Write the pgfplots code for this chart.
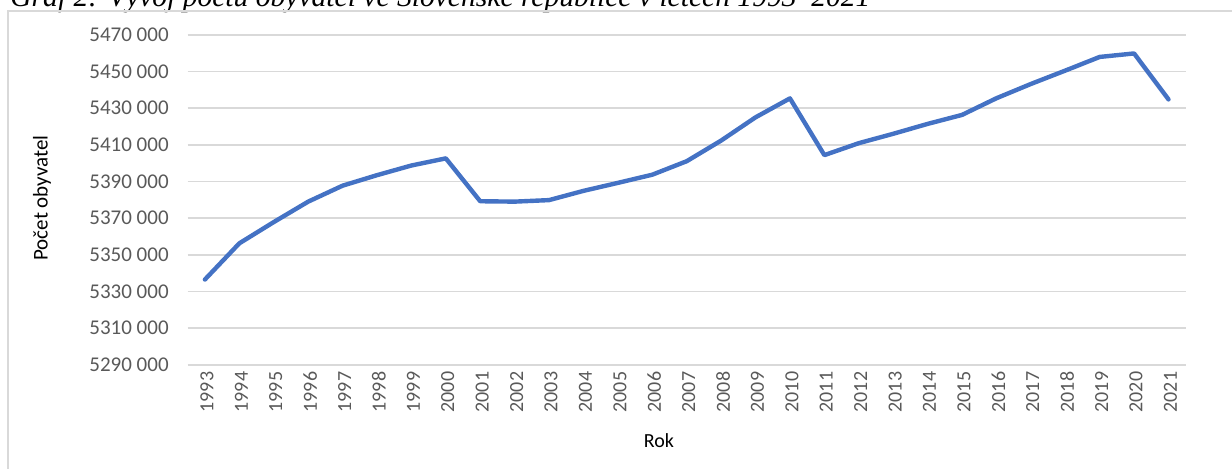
\documentclass[border=0pt]{standalone}
\usepackage{fontspec}
\setmainfont{Carlito}
\newfontfamily\titlefont{Liberation Serif}
\usepackage{graphicx}
\usepackage{pgfplots}
\pgfplotsset{compat=1.18}
\definecolor{xlblue}{HTML}{4472C4}
\definecolor{xlgrid}{HTML}{D9D9D9}
\definecolor{xltext}{HTML}{595959}

\begin{document}
\begin{tikzpicture}
\path[use as bounding box] (0,0) rectangle (616pt,234pt);
\clip (0,0) rectangle (616pt,234pt);
% cropped caption above the chart
\node[anchor=base west, inner sep=0pt] at (5pt,230.8pt)
  {\resizebox{430pt}{!}{\titlefont\itshape Graf 2: Vývoj počtu obyvatel ve Slovenské republice v letech 1993–2021}};
% chart frame (only top and left edge visible)
\draw[xlgrid, line width=1pt] (4.2pt,-20pt) -- (4.2pt,228.5pt) -- (640pt,228.5pt);
\begin{axis}[
    at={(93.85pt,51.65pt)}, anchor=south west,
    scale only axis, width=499pt, height=165pt,
    xmin=1992.5, xmax=2021.5,
    ymin=5290000, ymax=5470000,
    scaled y ticks=false,
    xtick={1993,...,2021},
    ytick={5290000,5310000,5330000,5350000,5370000,5390000,5410000,5430000,5450000,5470000},
    yticklabels={5290 000,5310 000,5330 000,5350 000,5370 000,5390 000,5410 000,5430 000,5450 000,5470 000},
    /pgf/number format/.cd, 1000 sep={}, assume math mode=true, /pgfplots/.cd,
    axis line style={draw=none},
    major tick length=0pt,
    ymajorgrids, grid style={xlgrid, line width=0.8pt},
    xmajorgrids=false,
    yticklabel style={font=\fontsize{10.5}{12}\selectfont, text=xltext, anchor=east, xshift=-6pt},
    xticklabel style={font=\fontsize{10}{12}\selectfont, text=xltext, rotate=90, anchor=east, yshift=-1pt},
    clip=false,
]
\addplot[xlblue, line width=2.2pt, line join=round, line cap=round] coordinates {
(1993,5336455)(1994,5356207)(1995,5367790)(1996,5378932)(1997,5387650)
(1998,5393382)(1999,5398657)(2000,5402547)(2001,5379161)(2002,5378951)
(2003,5379780)(2004,5384822)(2005,5389180)(2006,5393637)(2007,5400998)
(2008,5412254)(2009,5424925)(2010,5435273)(2011,5404322)(2012,5410836)
(2013,5415949)(2014,5421349)(2015,5426252)(2016,5435343)(2017,5443120)
(2018,5450421)(2019,5457873)(2020,5459781)(2021,5434712)};
\end{axis}
\node[font=\fontsize{10}{12}\selectfont] at (329.5pt,13.5pt) {Rok};
\node[font=\fontsize{10.5}{12}\selectfont, rotate=90] at (21pt,135pt) {Počet obyvatel};
\end{tikzpicture}
\end{document}
